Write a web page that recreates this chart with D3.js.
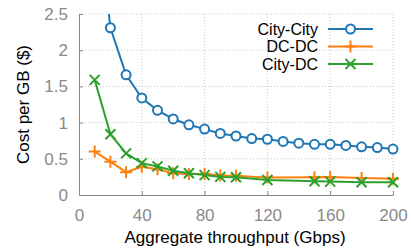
<!DOCTYPE html>
<html>
<head>
<meta charset="utf-8">
<script src="https://cdn.jsdelivr.net/npm/d3@7"></script>
<style>
  body { margin: 0; background: #fff; }
  text { font-family: "Liberation Sans", Arial, Helvetica, sans-serif; }
  .grid line { stroke: #c8c8c8; stroke-width: 1; stroke-dasharray: 1,2; }
  .tick text { fill: #8a8a8a; font-size: 17px; }
  .axis path, .axis line { stroke: #888; }
</style>
</head>
<body>
<div id="chart"></div>
<script>
var xCityCity = [10, 20, 30, 40, 50, 60, 70, 80, 90, 100, 110, 120, 130, 140, 150, 160, 170, 180, 190, 200];
var cityCity = [4.3, 2.31, 1.66, 1.34, 1.17, 1.05, 0.97, 0.91, 0.85, 0.815, 0.78, 0.77, 0.74, 0.715, 0.70, 0.70, 0.685, 0.665, 0.655, 0.635];

var xDC = [10, 20, 30, 40, 50, 60, 70, 80, 90, 100, 120, 150, 160, 180, 200];
var dcDc = [0.60, 0.46, 0.315, 0.39, 0.355, 0.30, 0.29, 0.29, 0.27, 0.265, 0.24, 0.245, 0.25, 0.235, 0.225];
var cityDc = [1.59, 0.84, 0.575, 0.44, 0.395, 0.335, 0.30, 0.275, 0.25, 0.245, 0.207, 0.19, 0.185, 0.175, 0.175];

var xTicks = [0, 40, 80, 120, 160, 200];
var yTicks = [0, 0.5, 1, 1.5, 2, 2.5];

var series = [
  {name: "City-City", xs: xCityCity, ys: cityCity, color: "#1f77b4", marker: "circle"},
  {name: "DC-DC", xs: xDC, ys: dcDc, color: "#ff7f0e", marker: "plus"},
  {name: "City-DC", xs: xDC, ys: cityDc, color: "#2ca02c", marker: "cross"}
];

var width = 411, height = 250;
var margin = {top: 14, right: 18, bottom: 55, left: 79};
var w = width - margin.left - margin.right,
    h = height - margin.top - margin.bottom;

var svg = d3.select("#chart").append("svg")
    .attr("width", width)
    .attr("height", height);

var g = svg.append("g").attr("transform", "translate(" + margin.left + "," + margin.top + ")");

var x = d3.scaleLinear().domain([0, 200]).range([0, w]);
var y = d3.scaleLinear().domain([0, 2.5]).range([h, 0]);

// grid
var grid = g.append("g").attr("class", "grid");
grid.selectAll("line.v").data(xTicks.slice(1)).enter().append("line")
    .attr("class", "v")
    .attr("x1", d => x(d)).attr("x2", d => x(d))
    .attr("y1", 0).attr("y2", h);
grid.selectAll("line.h").data(yTicks.slice(1)).enter().append("line")
    .attr("class", "h")
    .attr("x1", 0).attr("x2", w)
    .attr("y1", d => y(d)).attr("y2", d => y(d));

// axes, ticks inward
g.append("g").attr("class", "axis")
    .attr("transform", "translate(0," + h + ")")
    .call(d3.axisBottom(x).tickValues(xTicks).tickFormat(d => d).tickSizeInner(-4).tickSizeOuter(0).tickPadding(14))
    .call(a => a.selectAll(".tick line").filter(d => d === 0).remove());

g.append("g").attr("class", "axis")
    .call(d3.axisLeft(y).tickValues(yTicks).tickFormat(d => d).tickSizeInner(-4).tickSizeOuter(0).tickPadding(11))
    .call(a => a.selectAll(".tick line").filter(d => d === 0).remove());

svg.append("text")
    .attr("x", margin.left + w / 2 - 1).attr("y", 243)
    .attr("text-anchor", "middle").attr("font-size", 17).attr("fill", "#000")
    .text("Aggregate throughput (Gbps)");

svg.append("text")
    .attr("transform", "translate(29," + (margin.top + h / 2) + ") rotate(-90)")
    .attr("text-anchor", "middle").attr("font-size", 17).attr("fill", "#000")
    .text("Cost per GB ($)");

g.append("clipPath").attr("id", "clip")
  .append("rect").attr("x", -10).attr("y", 0).attr("width", w + 20).attr("height", h + 10);

function drawMarker(sel, type, color) {
  if (type === "circle") {
    sel.append("circle").attr("r", 4.5)
      .attr("fill", "#fff").attr("stroke", color).attr("stroke-width", 2);
  } else if (type === "plus") {
    sel.append("path").attr("d", "M-6,0H6M0,-6V6")
      .attr("stroke", color).attr("stroke-width", 2).attr("fill", "none");
  } else {
    sel.append("path").attr("d", "M-5,-5L5,5M-5,5L5,-5")
      .attr("stroke", color).attr("stroke-width", 2).attr("fill", "none");
  }
}

var line = d3.line().x(d => x(d[0])).y(d => y(d[1]));

var plot = g.append("g").attr("clip-path", "url(#clip)");

series.forEach(function(s) {
  var pts = s.xs.map((v, i) => [v, s.ys[i]]);
  var sg = plot.append("g");
  sg.append("path").datum(pts)
    .attr("d", line).attr("fill", "none")
    .attr("stroke", s.color).attr("stroke-width", 2);
  sg.selectAll("g.m").data(pts.filter(p => p[1] <= 2.5)).enter().append("g")
    .attr("transform", p => "translate(" + x(p[0]) + "," + y(p[1]) + ")")
    .each(function() { drawMarker(d3.select(this), s.marker, s.color); });
});

// legend
var legend = svg.append("g");
series.forEach(function(s, i) {
  var ly = 29 + i * 17.5;
  legend.append("text")
    .attr("x", 318).attr("y", ly).attr("dy", "0.35em")
    .attr("text-anchor", "end").attr("font-size", 16).attr("fill", "#000")
    .text(s.name);
  legend.append("line")
    .attr("x1", 328).attr("x2", 373).attr("y1", ly).attr("y2", ly)
    .attr("stroke", s.color).attr("stroke-width", 2);
  var m = legend.append("g").attr("transform", "translate(350.5," + ly + ")");
  drawMarker(m, s.marker, s.color);
});
</script>
</body>
</html>
